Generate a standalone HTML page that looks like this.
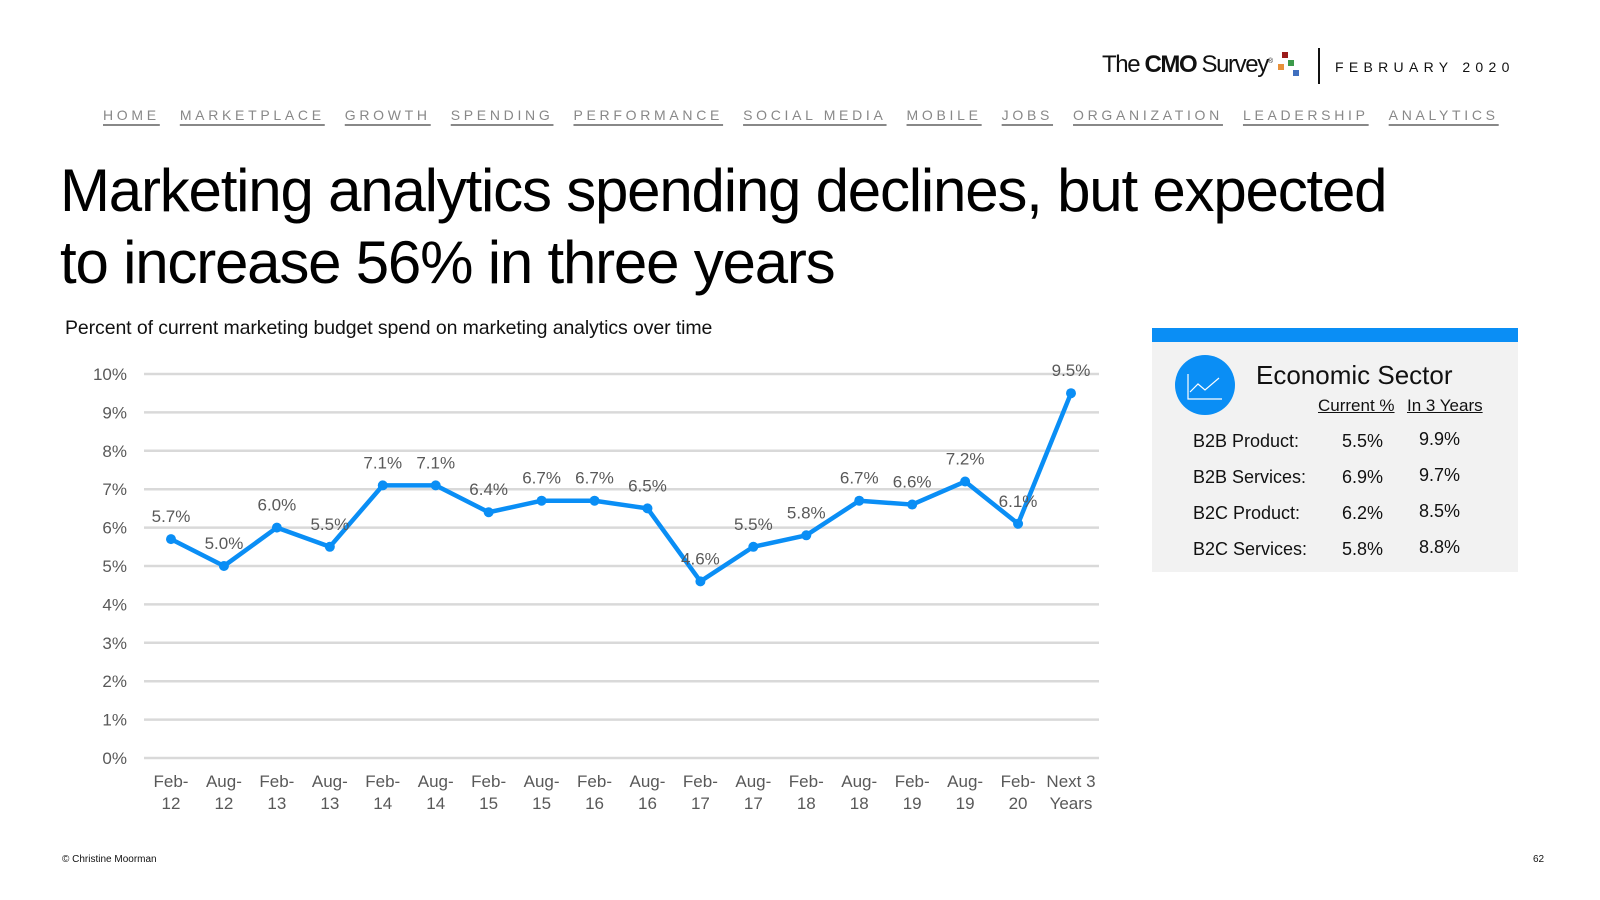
<!DOCTYPE html>
<html><head><meta charset="utf-8"><style>
body{margin:0;width:1600px;height:900px;background:#fff;font-family:"Liberation Sans",sans-serif;position:relative;overflow:hidden}
.abs{position:absolute}
.nav a{color:#888;text-decoration:underline;text-decoration-thickness:2px;text-underline-offset:4px;letter-spacing:3.7px;font-size:14px;margin-right:20px}
</style></head><body>
<div class="abs" style="left:1102px;top:51px;font-size:24px;letter-spacing:-1.4px;color:#111">The <b>CMO</b> Survey<sup style="font-size:7px">®</sup></div>
<svg class="abs" style="left:1278px;top:50px" width="32" height="30"><rect x="4" y="2" width="6" height="6" fill="#9b1c1c"/><rect x="0" y="14" width="6" height="6" fill="#e8913a"/><rect x="10" y="10" width="6" height="6" fill="#3c9a4a"/><rect x="15" y="20" width="6" height="6" fill="#3f6fbf"/></svg>
<div class="abs" style="left:1318px;top:48px;width:2px;height:36px;background:#111"></div>
<div class="abs" style="left:1335px;top:59px;font-size:14px;letter-spacing:5.3px;color:#111">FEBRUARY 2020</div>
<div class="abs nav" style="left:103px;top:107px;white-space:nowrap">
<a>HOME</a><a>MARKETPLACE</a><a>GROWTH</a><a>SPENDING</a><a>PERFORMANCE</a><a>SOCIAL MEDIA</a><a>MOBILE</a><a>JOBS</a><a>ORGANIZATION</a><a>LEADERSHIP</a><a>ANALYTICS</a></div>
<div class="abs" style="left:60px;top:155px;font-size:60px;line-height:72px;letter-spacing:-1.2px;color:#000;width:1450px">Marketing analytics spending declines, but expected<br>to increase 56% in three years</div>
<div class="abs" style="left:65px;top:317px;font-size:19.5px;letter-spacing:-0.1px;color:#111">Percent of current marketing budget spend on marketing analytics over time</div>
<svg id="chart" class="abs" style="left:0;top:0" width="1130" height="840"></svg>
<div class="abs" style="left:1152px;top:328px;width:366px;height:244px;background:#f2f2f2">
<div class="abs" style="left:0;top:0;width:366px;height:14px;background:#0a8ef5"></div>
<svg class="abs" style="left:22px;top:26px" width="62" height="62"><circle cx="31" cy="31" r="30" fill="#0a8ef5"/><polyline points="14,20 14,45 48,45" fill="none" stroke="#fff" stroke-width="1.2"/><polyline points="16,38 24,30 31,36 45,24" fill="none" stroke="#fff" stroke-width="1.2"/></svg>
<div class="abs" style="left:104px;top:32px;font-size:26px;color:#111">Economic Sector</div>
<div class="abs" style="left:166px;top:68px;font-size:17px;text-decoration:underline;color:#111">Current %</div>
<div class="abs" style="left:255px;top:68px;font-size:17px;text-decoration:underline;color:#111">In 3 Years</div>
<div id="rows"></div>
</div>
<div class="abs" style="left:62px;top:854px;font-size:10px;color:#111">© Christine Moorman</div>
<div class="abs" style="left:1533px;top:854px;font-size:10px;color:#111">62</div>
<script>
const categories=[["Feb-","12"],["Aug-","12"],["Feb-","13"],["Aug-","13"],["Feb-","14"],["Aug-","14"],["Feb-","15"],["Aug-","15"],["Feb-","16"],["Aug-","16"],["Feb-","17"],["Aug-","17"],["Feb-","18"],["Aug-","18"],["Feb-","19"],["Aug-","19"],["Feb-","20"],["Next 3","Years"]];
const values=[5.7,5.0,6.0,5.5,7.1,7.1,6.4,6.7,6.7,6.5,4.6,5.5,5.8,6.7,6.6,7.2,6.1,9.5];
const yTicks=[0,1,2,3,4,5,6,7,8,9,10];
const sectors=["B2B Product:","B2B Services:","B2C Product:","B2C Services:"];
const currentPct=["5.5%","6.9%","6.2%","5.8%"];
const futurePct=["9.9%","9.7%","8.5%","8.8%"];
const NS="http://www.w3.org/2000/svg",svg=document.getElementById('chart');
const x=i=>171+i*(1071-171)/(categories.length-1);
const y=v=>758-v*(758-374)/10;
function mk(t,a){const e=document.createElementNS(NS,t);for(const k in a)e.setAttribute(k,a[k]);svg.appendChild(e);return e;}
yTicks.forEach(t=>{const l=mk('line',{x1:144,x2:1099,y1:y(t),y2:y(t),stroke:'#d9d9d9','stroke-width':2.5});


const tx=mk('text',{x:127,y:y(t)+6,'text-anchor':'end','font-size':17,fill:'#595959','font-family':'Liberation Sans'});tx.textContent=t+'%';

});
categories.forEach((c,i)=>{c.forEach((s,j)=>{const t=mk('text',{x:x(i),y:787+j*22,'text-anchor':'middle','font-size':17,fill:'#595959','font-family':'Liberation Sans'});t.textContent=s;

});});
const pl=mk('polyline',{points:values.map((v,i)=>x(i)+','+y(v)).join(' '),fill:'none',stroke:'#0a8ef5','stroke-width':4.5,'stroke-linejoin':'round'});


values.forEach((v,i)=>{const c=mk('circle',{cx:x(i),cy:y(v),r:5,fill:'#0a8ef5'});


const t=mk('text',{x:x(i),y:y(v)-17,'text-anchor':'middle','font-size':17,fill:'#595959','font-family':'Liberation Sans'});t.textContent=v.toFixed(1)+'%';

});
const rows=document.getElementById('rows');
sectors.forEach((s,i)=>{const top=103+i*36;
[[s,41],[currentPct[i],190],[futurePct[i],267]].forEach(([txt,l],k)=>{const d=document.createElement('div');d.className='abs';d.style.cssText=`left:${l}px;top:${top-(k==2?2:0)}px;font-size:18px;color:#111`;d.textContent=txt;


rows.appendChild(d);});});
</script>
</body></html>
